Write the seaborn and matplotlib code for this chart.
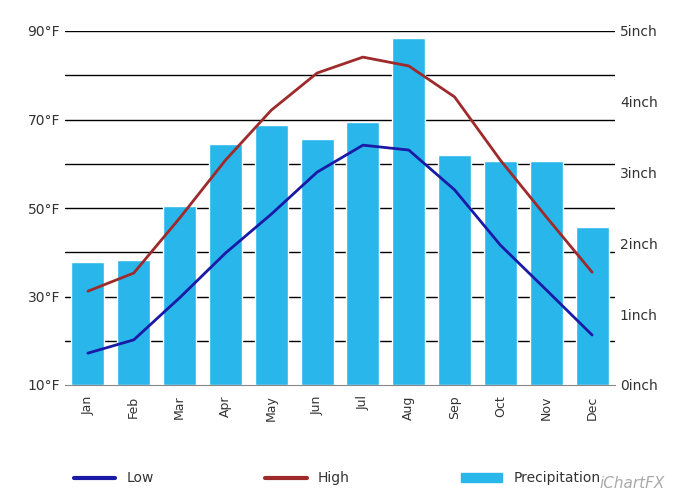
import numpy as np
import matplotlib
matplotlib.use("Agg")
import matplotlib.pyplot as plt
import seaborn as sns
from matplotlib.lines import Line2D
from matplotlib.patches import Patch

months = ["Jan", "Feb", "Mar", "Apr", "May", "Jun", "Jul", "Aug", "Sep", "Oct", "Nov", "Dec"]
high_f = [31.2, 35.3, 47.7, 60.8, 72.1, 80.5, 84.1, 82.1, 75.1, 60.8, 48.0, 35.5]
low_f = [17.2, 20.2, 29.7, 39.8, 48.6, 58.1, 64.2, 63.1, 54.1, 41.6, 31.5, 21.3]
precip_in = [1.74, 1.77, 2.53, 3.40, 3.67, 3.47, 3.71, 4.90, 3.25, 3.16, 3.16, 2.23]

sns.set_style("white")
plt.rcParams["font.family"] = ["DejaVu Sans"]
TXT = "#333333"

fig = plt.figure(figsize=(6.8, 4.93), dpi=100)
ax2 = fig.add_axes([65 / 680, 1 - 385 / 493, 550 / 680, 354 / 493])
ax = ax2.twinx()

# bars on the right (inch) axis
sns.barplot(x=months, y=precip_in, color="#29b6ea", saturation=1, width=0.72, ax=ax2)
ax2.set_ylim(0, 5)
ax2.yaxis.tick_right()
ax2.set_yticks(range(6))
ax2.set_yticklabels([f"{i}inch" for i in range(6)])

# temperature lines on the left axis
x = np.arange(len(months))
ax.plot(x, high_f, color="#9e2a2b", lw=2)
ax.plot(x, low_f, color="#1a1aa6", lw=2)
ax.set_ylim(10, 90)
ax.yaxis.tick_left()
ax.set_yticks(range(10, 91, 10))
ax.set_yticklabels([f"{v}°F" if v % 20 == 10 else "" for v in range(10, 91, 10)])
for v in range(20, 91, 10):
    ax2.axhline((v - 10) / 16, color="black", lw=1, zorder=0.5)

for a in (ax, ax2):
    for s in a.spines.values():
        s.set_visible(False)
    a.tick_params(length=0, colors=TXT, labelsize=10)
ax2.spines["bottom"].set_visible(True)
ax2.spines["bottom"].set_color("#888888")
ax2.set_xlim(-0.5, 11.5)
ax2.set_xticks(x)
ax2.set_xticklabels(months, rotation=90)
ax2.tick_params(axis="x", length=4, labelsize=9)

handles = [Line2D([], [], color="#1a1aa6", lw=3), Line2D([], [], color="#9e2a2b", lw=3),
           Patch(color="#29b6ea")]
fig.legend(handles, ["Low", "High", "Precipitation"], loc="lower left",
           bbox_to_anchor=(0.09, -0.01), ncol=3, frameon=False, columnspacing=8,
           handlelength=3, fontsize=10, labelcolor=TXT)
fig.text(0.93, 0.01, "iChartFX", color="#aaaaaa", style="italic", fontsize=11, ha="center")
fig.savefig("out.png", dpi=100)
